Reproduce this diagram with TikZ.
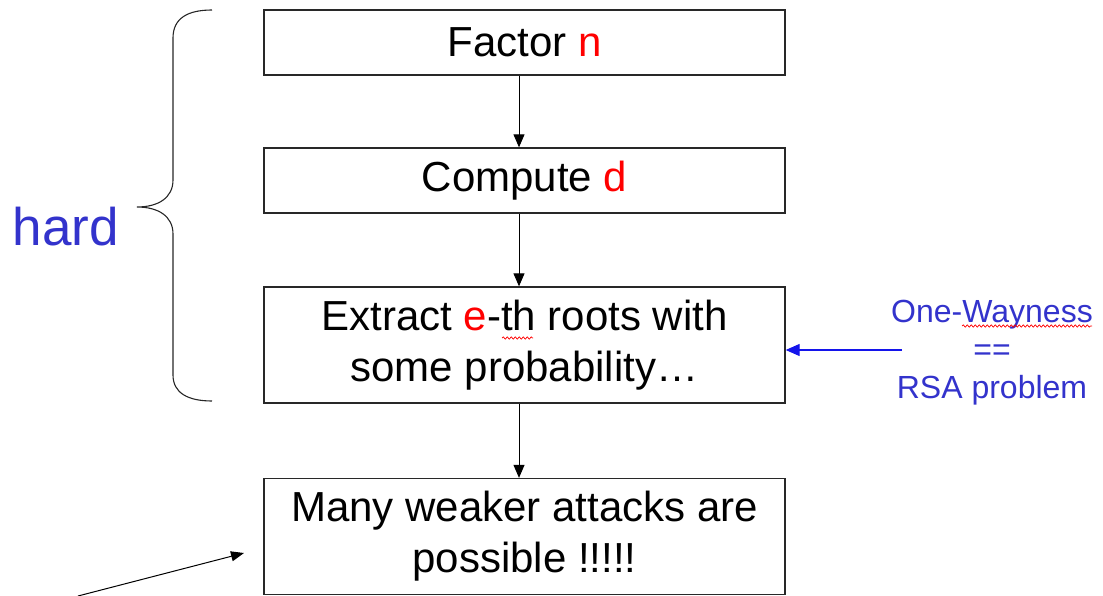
\documentclass[tikz,border=0pt]{standalone}
\usepackage{fontspec}
\setmainfont{Liberation Sans}
\usetikzlibrary{arrows.meta,decorations.pathmorphing}
\definecolor{txtblue}{RGB}{51,51,204}
\definecolor{arrowblue}{RGB}{20,20,235}
\definecolor{boxline}{RGB}{40,40,40}
\tikzset{
  stepbox/.style={draw=boxline,line width=1.3pt,rectangle,inner sep=0pt,
    minimum width=521pt,align=center,font=\fontsize{42}{51}\selectfont},
  flow/.style={-{Triangle[length=13pt,width=11pt]},line width=1pt,black},
  bluearrow/.style={-{Triangle[length=14pt,width=12pt]},line width=1.1pt,arrowblue},
  spell/.style={red,line width=0.7pt,decorate,
    decoration={snake,amplitude=1.2pt,segment length=4pt}},
  bracestroke/.style={line width=1.1pt,black!85}
}
\newcommand{\hl}[1]{\textcolor{red}{#1}}
\begin{document}
\begin{tikzpicture}[x=1pt,y=-1pt]
  \useasboundingbox (0,0) rectangle (1103,596);

  % the chain of reductions
  \node[stepbox,minimum height=65pt]  (factor)  at (524.5,42.5)  {Factor \hl{n}};
  \node[stepbox,minimum height=65pt]  (compute) at (524.5,180.5) {Compute \hl{d}};
  \node[stepbox,minimum height=116pt] (extract) at (524.5,345)   {Extract \hl{e}-th roots with\\some probability…};
  \node[stepbox,minimum height=116pt] (weaker)  at (524.5,536.5) {Many weaker attacks are\\possible !!!!!};

  \draw[flow] (factor.south -| 519,0) -- (compute.north -| 519,0);
  \draw[flow] (compute.south -| 519,0) -- (extract.north -| 519,0);
  \draw[flow] (extract.south -| 519,0) -- (weaker.north -| 519,0);

  % brace grouping the hard problems
  \draw[bracestroke] (212,10) .. controls (188,10) and (173,18) .. (173,38)
    -- (173,180) .. controls (173,198) and (158,207) .. (137,207)
    .. controls (158,207) and (173,216) .. (173,234)
    -- (173,375) .. controls (173,393) and (188,401) .. (212,401);
  \node[txtblue,font=\fontsize{53}{60}\selectfont,anchor=base] (hard) at (66,245) {hard};

  % one-wayness remark
  \node[txtblue,font=\fontsize{32}{38}\selectfont,align=center] (oneway) at (992,353)
    {One-Wayness\\==\\RSA problem};
  \coordinate (owtail) at (902,350);
  \draw[bluearrow] (owtail) -- (extract.east |- owtail);

  % spelling marks
  \draw[spell] (962,326) -- (1092,326);
  \draw[spell] (502,338) -- (533,338);

  % pointer to the weaker attacks
  \coordinate (ptail) at (78,596);
  \coordinate (phead) at (244,553);
  \draw[-{Triangle[length=13pt,width=10pt]},line width=1pt] (ptail) -- (phead);
\end{tikzpicture}
\end{document}
